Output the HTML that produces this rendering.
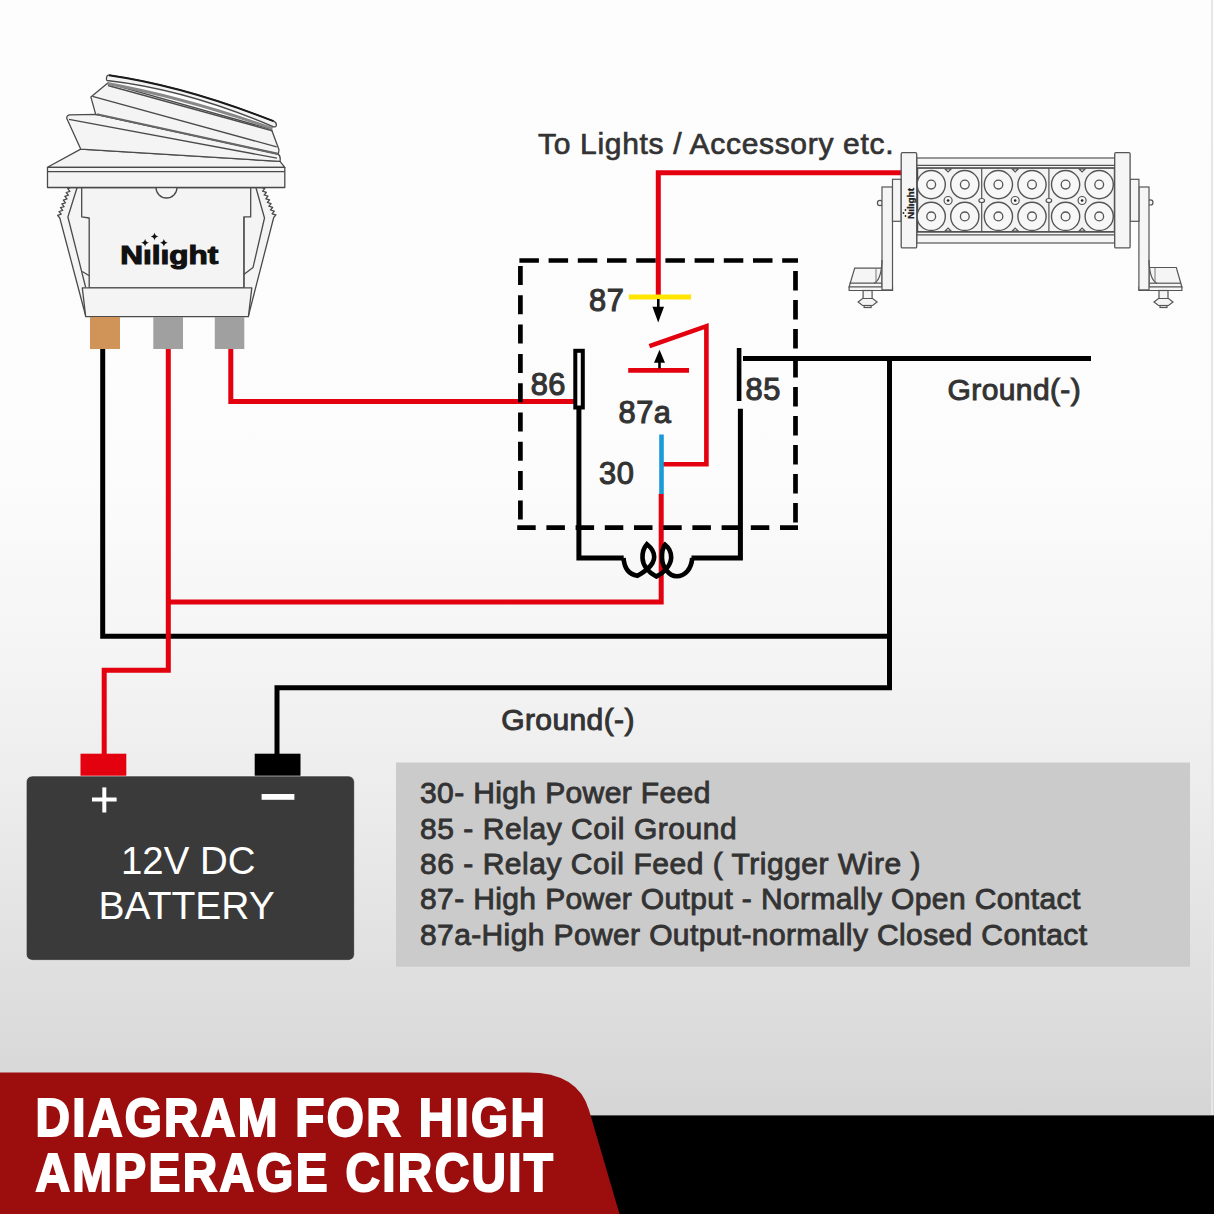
<!DOCTYPE html>
<html><head><meta charset="utf-8">
<style>
html,body{margin:0;padding:0;width:1214px;height:1214px;overflow:hidden}
body{background:linear-gradient(180deg,#fdfdfd 0px,#fcfcfc 470px,#f5f5f5 640px,#ececec 800px,#e1e1e1 950px,#d8d8d8 1080px,#d5d5d5 1115px);font-family:"Liberation Sans",sans-serif}
svg{position:absolute;left:0;top:0}
</style></head><body>
<svg width="1214" height="1214" viewBox="0 0 1214 1214">
<!-- right edge line -->
<rect x="1211" y="0" width="2" height="1115" fill="#e6e6e6"/>

<!-- legend box -->
<rect x="396" y="762.5" width="794" height="204.2" fill="#cbcbcb"/>

<!-- wires -->
<g fill="none" stroke-linecap="butt" stroke-linejoin="miter">
  <!-- black from orange terminal -->
  <polyline points="102.7,349 102.7,636.3 889.5,636.3" stroke="#000" stroke-width="5"/>
  <!-- vertical ground -->
  <polyline points="743,358.6 1091,358.6" stroke="#000" stroke-width="5"/>
  <polyline points="889.5,356 889.5,687.7 277,687.7 277,754" stroke="#000" stroke-width="5"/>
  <!-- red from grey1 -->
  <polyline points="168.3,349 168.3,670.2 104.2,670.2 104.2,754" stroke="#e3000f" stroke-width="5"/>
  <polyline points="168.3,601.9 661.2,601.9 661.2,493.8" stroke="#e3000f" stroke-width="5"/>
  <!-- red from grey2 -->
  <polyline points="230.8,349 230.8,401.5 575,401.5" stroke="#e3000f" stroke-width="5"/>
  <!-- 87 to light bar -->
  <polyline points="658.3,296 658.3,172.7 902,172.7" stroke="#e3000f" stroke-width="5"/>
  <!-- switch contact -->
  <polyline points="649.4,346.2 706.4,326.2 706.4,464.3 663,464.3" stroke="#e3000f" stroke-width="4.6"/>
  <!-- 87a bar -->
  <line x1="628.2" y1="370.4" x2="689" y2="370.4" stroke="#e3000f" stroke-width="4.6"/>
  <!-- yellow 87 bar -->
  <line x1="628.8" y1="297" x2="691.1" y2="297" stroke="#ffe500" stroke-width="5"/>
  <!-- blue 30 -->
  <line x1="661.5" y1="434.5" x2="661.5" y2="494" stroke="#1a9ad6" stroke-width="4.6"/>
  <!-- arrows -->
  <line x1="658.3" y1="299" x2="658.3" y2="310" stroke="#000" stroke-width="2.6"/>
  <line x1="659.5" y1="360" x2="659.5" y2="368.5" stroke="#000" stroke-width="2.6"/>
  <!-- 86 terminal -->
  <rect x="575.3" y="350.8" width="7.5" height="56.7" stroke="#000" stroke-width="4"/>
  <polyline points="578.9,409 578.9,557.9 623.7,557.9" stroke="#000" stroke-width="5"/>
  <!-- 85 terminal -->
  <line x1="739.1" y1="348" x2="739.1" y2="401" stroke="#000" stroke-width="4.6"/>
  <polyline points="740.4,408.7 740.4,557.9 691.5,557.9" stroke="#000" stroke-width="5"/>
  <!-- coil -->
  <path d="M623.5,558 C624.3,568 629,574.5 637.4,575.8 C644,572 654,566 654.2,557 C654.3,551 650.5,547 646.9,544.2 C643.5,548 642.3,553 642.5,558 C642.7,566 649,573 656.3,576.5 C662.5,574 671,566 671.2,557.5 C671.3,551 668.5,547.5 665.1,544.8 C662.5,548 661.8,553 662,558 C662.3,567 669,576.3 676.6,576.3 C685,576.3 691.5,569 692.2,558" stroke="#000" stroke-width="4.6"/>
  <!-- dashed relay box -->
  <line x1="519.4" y1="260.5" x2="798" y2="260.5" stroke="#000" stroke-width="4.7" stroke-dasharray="19.5 9.7"/>
  <line x1="520.4" y1="266" x2="520.4" y2="530" stroke="#000" stroke-width="4.7" stroke-dasharray="19 10.3"/>
  <line x1="517.2" y1="527.7" x2="798" y2="527.7" stroke="#000" stroke-width="4.7" stroke-dasharray="18.5 10.7"/>
  <line x1="795.5" y1="271" x2="795.5" y2="530" stroke="#000" stroke-width="4.7" stroke-dasharray="19.5 9.5"/>
</g>
<polygon points="652.4,306.8 664,306.8 658.2,322.5" fill="#000"/>
<polygon points="654,362.8 665,362.8 659.5,349.7" fill="#000"/>

<!-- relay labels -->
<g font-family="Liberation Sans" font-size="30.8" fill="#333" stroke="#333" stroke-width="1.1" letter-spacing="0.5">
  <text x="589" y="311">87</text>
  <text x="530.7" y="394.5">86</text>
  <text x="618.6" y="422.8">87a</text>
  <text x="745.5" y="399.7">85</text>
  <text x="599" y="483.8">30</text>
</g>
<g font-family="Liberation Sans" font-size="30" fill="#333" stroke="#333" stroke-width="0.7" letter-spacing="0.68">
  <text x="538" y="153.6">To Lights / Accessory etc.</text>
</g>
<g font-family="Liberation Sans" font-size="30" fill="#333" stroke="#333" stroke-width="1" letter-spacing="0.4">
  <text x="947.5" y="400.2">Ground(-)</text>
  <text x="501.2" y="729.5">Ground(-)</text>
</g>

<!-- legend text -->
<g font-family="Liberation Sans" font-size="30" fill="#333" stroke="#333" stroke-width="0.9" letter-spacing="0.38">
  <text x="420" y="803.4">30- High Power Feed</text>
  <text x="420" y="838.5" letter-spacing="0.55">85 - Relay Coil Ground</text>
  <text x="420" y="874.3" letter-spacing="0.52">86 - Relay Coil Feed ( Trigger Wire )</text>
  <text x="420" y="909.4">87- High Power Output - Normally Open Contact</text>
  <text x="420" y="945.2">87a-High Power Output-normally Closed Contact</text>
</g>

<!-- battery -->
<rect x="80.5" y="753.7" width="45.8" height="24" fill="#e3000f"/>
<rect x="254.7" y="753.7" width="45.8" height="24" fill="#000"/>
<rect x="26.3" y="776" width="328.1" height="184.3" rx="6" fill="#3a3a3a" stroke="rgba(255,255,255,0.55)" stroke-width="1"/>
<rect x="92" y="797.5" width="24.6" height="4" fill="#fff"/>
<rect x="102.3" y="787.4" width="4" height="25.1" fill="#fff"/>
<rect x="261.6" y="794" width="32.8" height="5.8" fill="#fff"/>
<g font-family="Liberation Sans" font-size="39" fill="#fff">
  <text x="121" y="873.9" font-size="38.4">12V DC</text>
  <text x="98.5" y="918.5">BATTERY</text>
</g>

<!-- banner -->
<rect x="560" y="1115.4" width="654" height="98.6" fill="#000"/>
<path d="M0,1072.5 L528,1072.5 Q578,1072.5 589,1110 L619.5,1214 L0,1214 Z" fill="#9c0d0d"/>
<g font-family="Liberation Sans" font-weight="bold" font-size="54.5" fill="#fff" stroke="#fff" stroke-width="2.1" letter-spacing="2.7">
  <text x="35.5" y="1136" transform="translate(35.5 0) scale(0.875 1) translate(-35.5 0)">DIAGRAM FOR HIGH</text>
  <text x="35.5" y="1190.8" transform="translate(35.5 0) scale(0.875 1) translate(-35.5 0)">AMPERAGE CIRCUIT</text>
</g>

<!-- SWITCH placeholder -->
<g id="switch">
<g stroke="#4a4a4a" stroke-width="1.3" stroke-linejoin="round" fill="#f4f4f4">
  <!-- side tabs -->
  <path d="M90,187.5 L71.3,187.5 L67.7,188.6 L69.9,191.3 L66.2,192.5 L68.4,195.1 L64.8,196.3 L67.0,198.9 L63.3,200.1 L65.5,202.8 L61.9,203.9 L64.1,206.6 L60.5,207.7 L62.7,210.4 L59.0,211.5 L61.2,214.2 L57.6,215.3 L59.8,218.0 L85.7,316 L90,316 Z"/>
  <path d="M77.1,187.5 L67.9,217 L85.7,287.5" fill="none"/>
  <path d="M244,187.5 L261,187.5 L264.8,188.6 L262.6,191.2 L266.4,192.4 L264.2,195.0 L268.0,196.1 L265.8,198.8 L269.6,199.9 L267.4,202.5 L271.1,203.6 L268.9,206.2 L272.7,207.4 L270.5,210.0 L274.3,211.1 L272.1,213.8 L275.9,214.9 L273.7,217.5 L248.4,316 L244,316 Z"/>
  <path d="M255.9,187.5 L264.5,218 L253,267.6 L243.8,274.5" fill="none"/>
  <!-- body -->
  <path d="M81.7,187.5 L250.7,187.5 L250.7,216.9 L243.8,216.9 L243.8,287.8 L89.2,287.8 L89.2,218 L81.7,216.9 Z"/>
  <path d="M89.2,275.7 L82.3,271.5" fill="none"/>
  <path d="M156,187.5 A10.5,10.5 0 1 0 177,187.5" fill="#f4f4f4"/>
  <!-- collar -->
  <path d="M82.3,287.8 L251.8,287.8 L248.4,316.6 L85.7,316.6 Z"/>
  <!-- flange -->
  <path d="M47.5,167.3 L80.7,149.1 L280,161.4 L284.8,167.3 Z"/>
  <rect x="47.5" y="167.3" width="237.3" height="20.2"/>
  <line x1="47.5" y1="171.6" x2="284.8" y2="171.6"/>
  <!-- lower rocker -->
  <path d="M80.7,149.1 L66.8,118.5 Q66.5,115 70,114.8 L96.8,114.3 L277.8,153.9 Q281,156 280,161.4 Z"/>
  <path d="M69,119.3 L277,158.2" fill="none"/>
  <!-- upper rocker -->
  <path d="M95.7,114.3 L90.9,97.1 L107.5,83.2 L271.4,129.3 L278.9,149.6 Q279,153 277.8,153.9 Z"/>
  <path d="M92.5,96.3 L276.7,146.9" fill="none"/>
  <path d="M96.8,114.3 L277.8,153.9" fill="none" stroke-width="2.2" stroke="#666"/>
  <path d="M108,85.5 L272.4,130.8" fill="none"/>
  <!-- cap -->
  <path d="M107.5,83.5 Q186,98 272.5,128.6" fill="none" stroke="#888" stroke-width="2.8"/>
  <path d="M106.5,78 Q106.8,75 109,75.2 Q185.4,86.3 273.5,121.2 Q276.8,122.6 276.3,125.3 Q275.8,127.5 273.5,126.8 Q186.2,89.4 107,80.5 Q106.3,80 106.5,78 Z"/>
  <path d="M109,75.2 Q185.4,86.3 273.5,121.2" fill="none" stroke="#1a1a1a" stroke-width="1.9"/>
</g>
<!-- logo -->
<text x="120.2" y="264.2" font-family="Liberation Sans" font-weight="bold" font-size="25.5" fill="#111" stroke="#111" stroke-width="1.1" textLength="98" lengthAdjust="spacingAndGlyphs">N&#305;l&#305;ght</text>
<g fill="#111">
  <path d="M145.1,238.8 Q145.6,242.3 149,242.8 Q145.6,243.3 145.1,246.8 Q144.6,243.3 141.2,242.8 Q144.6,242.3 145.1,238.8 Z"/>
  <path d="M154.5,232.4 Q155,235.9 158.4,236.4 Q155,236.9 154.5,240.4 Q154,236.9 150.6,236.4 Q154,235.9 154.5,232.4 Z"/>
  <path d="M163.9,238.8 Q164.4,242.3 167.8,242.8 Q164.4,243.3 163.9,246.8 Q163.4,243.3 160,242.8 Q163.4,242.3 163.9,238.8 Z"/>
</g>
<!-- terminals -->
<rect x="90" y="317" width="30" height="32" fill="#d09358"/>
<rect x="153.3" y="317" width="29.7" height="32" fill="#a0a0a0"/>
<rect x="214.8" y="317" width="29.5" height="32" fill="#a0a0a0"/>

</g>
<!-- LIGHTBAR placeholder -->
<g id="lightbar">
<circle cx="880" cy="203" r="2.6" fill="#f5f5f5" stroke="#555" stroke-width="1.2"/>
<path d="M849.1,287 L854.7,268.2 L882,268.2 L882,287 Z" fill="#f5f5f5" stroke="#555" stroke-width="1.2"/>
<path d="M849.1,287 L892.5,287 L892.5,290.5 L849.1,290.5 Z" fill="#f5f5f5" stroke="#555" stroke-width="1.2"/>
<rect x="882" y="187" width="10.5" height="102.9" fill="#f5f5f5" stroke="#555" stroke-width="1.2"/>
<path d="M882,260 Q881.5,280 874,283.2" fill="none" stroke="#555" stroke-width="1.2"/>
<line x1="849.5" y1="283.2" x2="882" y2="283.2" stroke="#555" stroke-width="1.2"/>
<line x1="876" y1="268.2" x2="876" y2="283" stroke="#777" stroke-width="1"/>
<rect x="892.5" y="179.3" width="8.7" height="42.0" fill="#f5f5f5" stroke="#555" stroke-width="1.2"/>
<rect x="863.1" y="290.5" width="9" height="11" fill="#f5f5f5" stroke="#555" stroke-width="1.2"/>
<path d="M858.1,302 L862.6,298.5 L872.6,298.5 L877.1,302 L872.6,305.5 L862.6,305.5 Z" fill="#f5f5f5" stroke="#555" stroke-width="1.2"/>
<rect x="864.1" y="305.5" width="7" height="2" fill="#f5f5f5" stroke="#555" stroke-width="1.2"/>
<circle cx="1150.4" cy="202.4" r="2.6" fill="#f5f5f5" stroke="#555" stroke-width="1.2"/>
<path d="M1181.9,287 L1176.3,267.5 L1149,267.5 L1149,287 Z" fill="#f5f5f5" stroke="#555" stroke-width="1.2"/>
<path d="M1138.9,287 L1181.9,287 L1181.9,290.5 L1138.9,290.5 Z" fill="#f5f5f5" stroke="#555" stroke-width="1.2"/>
<rect x="1138.9" y="187" width="10.1" height="102.9" fill="#f5f5f5" stroke="#555" stroke-width="1.2"/>
<path d="M1149,260 Q1149.5,280 1157,283.2" fill="none" stroke="#555" stroke-width="1.2"/>
<line x1="1149" y1="283.2" x2="1181" y2="283.2" stroke="#555" stroke-width="1.2"/>
<line x1="1155" y1="267.5" x2="1155" y2="283" stroke="#777" stroke-width="1"/>
<rect x="1130" y="179.3" width="8.9" height="42.0" fill="#f5f5f5" stroke="#555" stroke-width="1.2"/>
<rect x="1159.0" y="290.5" width="9" height="11" fill="#f5f5f5" stroke="#555" stroke-width="1.2"/>
<path d="M1154.0,302 L1158.5,298.5 L1168.5,298.5 L1173.0,302 L1168.5,305.5 L1158.5,305.5 Z" fill="#f5f5f5" stroke="#555" stroke-width="1.2"/>
<rect x="1160.0" y="305.5" width="7" height="2" fill="#f5f5f5" stroke="#555" stroke-width="1.2"/>
<rect x="916.7" y="158" width="198" height="10.1" fill="#f5f5f5" stroke="#555" stroke-width="1.2"/>
<line x1="916.7" y1="165.3" x2="1114.7" y2="165.3" stroke="#555" stroke-width="1.2"/>
<rect x="916.7" y="231.8" width="198" height="11.2" fill="#f5f5f5" stroke="#555" stroke-width="1.2"/>
<line x1="916.7" y1="234.8" x2="1114.7" y2="234.8" stroke="#555" stroke-width="1.2"/>
<rect x="917.5" y="168.1" width="197" height="63.7" fill="#f3f3f3" stroke="#444" stroke-width="1.4"/>
<line x1="981.7" y1="168.1" x2="981.7" y2="231.8" stroke="#555" stroke-width="1.2"/>
<line x1="1048.9" y1="168.1" x2="1048.9" y2="231.8" stroke="#555" stroke-width="1.2"/>
<circle cx="931.2" cy="184.6" r="14.1" fill="#f7f7f7" stroke="#555" stroke-width="1.4"/>
<circle cx="931.2" cy="184.6" r="4.4" fill="#f7f7f7" stroke="#555" stroke-width="1.3"/>
<circle cx="931.2" cy="216.4" r="14.1" fill="#f7f7f7" stroke="#555" stroke-width="1.4"/>
<circle cx="931.2" cy="216.4" r="4.4" fill="#f7f7f7" stroke="#555" stroke-width="1.3"/>
<circle cx="964.8" cy="184.6" r="14.1" fill="#f7f7f7" stroke="#555" stroke-width="1.4"/>
<circle cx="964.8" cy="184.6" r="4.4" fill="#f7f7f7" stroke="#555" stroke-width="1.3"/>
<circle cx="964.8" cy="216.4" r="14.1" fill="#f7f7f7" stroke="#555" stroke-width="1.4"/>
<circle cx="964.8" cy="216.4" r="4.4" fill="#f7f7f7" stroke="#555" stroke-width="1.3"/>
<circle cx="998.4" cy="184.6" r="14.1" fill="#f7f7f7" stroke="#555" stroke-width="1.4"/>
<circle cx="998.4" cy="184.6" r="4.4" fill="#f7f7f7" stroke="#555" stroke-width="1.3"/>
<circle cx="998.4" cy="216.4" r="14.1" fill="#f7f7f7" stroke="#555" stroke-width="1.4"/>
<circle cx="998.4" cy="216.4" r="4.4" fill="#f7f7f7" stroke="#555" stroke-width="1.3"/>
<circle cx="1032" cy="184.6" r="14.1" fill="#f7f7f7" stroke="#555" stroke-width="1.4"/>
<circle cx="1032" cy="184.6" r="4.4" fill="#f7f7f7" stroke="#555" stroke-width="1.3"/>
<circle cx="1032" cy="216.4" r="14.1" fill="#f7f7f7" stroke="#555" stroke-width="1.4"/>
<circle cx="1032" cy="216.4" r="4.4" fill="#f7f7f7" stroke="#555" stroke-width="1.3"/>
<circle cx="1065.6" cy="184.6" r="14.1" fill="#f7f7f7" stroke="#555" stroke-width="1.4"/>
<circle cx="1065.6" cy="184.6" r="4.4" fill="#f7f7f7" stroke="#555" stroke-width="1.3"/>
<circle cx="1065.6" cy="216.4" r="14.1" fill="#f7f7f7" stroke="#555" stroke-width="1.4"/>
<circle cx="1065.6" cy="216.4" r="4.4" fill="#f7f7f7" stroke="#555" stroke-width="1.3"/>
<circle cx="1099.2" cy="184.6" r="14.1" fill="#f7f7f7" stroke="#555" stroke-width="1.4"/>
<circle cx="1099.2" cy="184.6" r="4.4" fill="#f7f7f7" stroke="#555" stroke-width="1.3"/>
<circle cx="1099.2" cy="216.4" r="14.1" fill="#f7f7f7" stroke="#555" stroke-width="1.4"/>
<circle cx="1099.2" cy="216.4" r="4.4" fill="#f7f7f7" stroke="#555" stroke-width="1.3"/>
<circle cx="948.1" cy="200.5" r="4" fill="#f7f7f7" stroke="#555" stroke-width="1.2"/>
<circle cx="948.1" cy="200.5" r="1.3" fill="#222"/>
<circle cx="1015.2" cy="200.5" r="4" fill="#f7f7f7" stroke="#555" stroke-width="1.2"/>
<circle cx="1015.2" cy="200.5" r="1.3" fill="#222"/>
<circle cx="1082.1" cy="200.5" r="4" fill="#f7f7f7" stroke="#555" stroke-width="1.2"/>
<circle cx="1082.1" cy="200.5" r="1.3" fill="#222"/>
<ellipse cx="981.7" cy="200.5" rx="2.8" ry="2" fill="#f7f7f7" stroke="#555" stroke-width="1.2"/>
<ellipse cx="1048.9" cy="200.5" rx="2.8" ry="2" fill="#f7f7f7" stroke="#555" stroke-width="1.2"/>
<path d="M945.1,169 L951.1,169 L948.1,172 Z" fill="#f7f7f7" stroke="#555" stroke-width="1.2"/>
<path d="M945.1,231 L951.1,231 L948.1,228 Z" fill="#f7f7f7" stroke="#555" stroke-width="1.2"/>
<path d="M1012.2,169 L1018.2,169 L1015.2,172 Z" fill="#f7f7f7" stroke="#555" stroke-width="1.2"/>
<path d="M1012.2,231 L1018.2,231 L1015.2,228 Z" fill="#f7f7f7" stroke="#555" stroke-width="1.2"/>
<path d="M1079.1,169 L1085.1,169 L1082.1,172 Z" fill="#f7f7f7" stroke="#555" stroke-width="1.2"/>
<path d="M1079.1,231 L1085.1,231 L1082.1,228 Z" fill="#f7f7f7" stroke="#555" stroke-width="1.2"/>
<rect x="901.2" y="152.7" width="15.5" height="95.2" rx="1.2" fill="#f5f5f5" stroke="#555" stroke-width="1.3"/>
<rect x="1114.7" y="152.7" width="15.4" height="95.2" rx="1.2" fill="#f5f5f5" stroke="#555" stroke-width="1.3"/>
<text transform="translate(913.5 219) rotate(-90)" font-family="Liberation Sans" font-weight="bold" font-size="8.5" fill="#222" stroke="#222" stroke-width="0.3" textLength="31" lengthAdjust="spacingAndGlyphs">N&#305;l&#305;ght</text>
<g fill="#222"><circle cx="905.5" cy="216" r="0.9"/><circle cx="903.5" cy="213" r="0.9"/><circle cx="905.5" cy="210" r="0.9"/></g>
</g>
</svg>
</body></html>
